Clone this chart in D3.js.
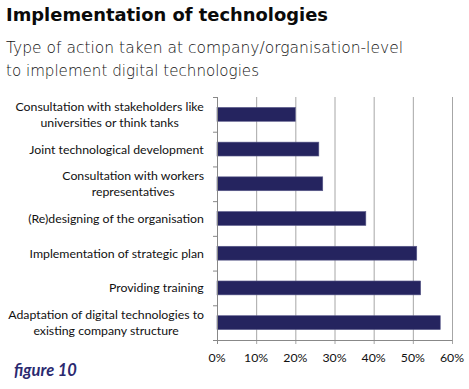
<!DOCTYPE html>
<html>
<head>
<meta charset="utf-8">
<script src="https://cdn.jsdelivr.net/npm/d3@7"></script>
<style>
  body { margin: 0; background: #fff; }
  svg { display: block; }
</style>
</head>
<body>
<svg id="canvas" width="469" height="389"></svg>
<script>
// categories, top to bottom
let categories = [
  ['Consultation with stakeholders like', 'universities or think tanks'],
  ['Joint technological development'],
  ['Consultation with workers', 'representatives'],
  ['(Re)designing of the organisation'],
  ['Implementation of strategic plan'],
  ['Providing training'],
  ['Adaptation of digital technologies to', 'existing company structure']
]
let values = [20, 26, 27, 38, 51, 52, 57]
let xTicks = [0, 10, 20, 30, 40, 50, 60]

let canvas = d3.select('#canvas')

let plotLeft = 217, plotRight = 452, plotTop = 97, plotBottom = 340

let x = d3.scaleLinear().domain([0, 60]).range([plotLeft, plotRight])
let y = d3.scaleBand().domain(d3.range(categories.length)).range([plotTop, plotBottom]).paddingInner(0.6).paddingOuter(0.3)
let yEdge = d3.scaleBand().domain(d3.range(categories.length)).range([plotTop, plotBottom])

// titles
canvas.append('text')
  .attr('x', 6).attr('y', 21)
  .attr('font-family', 'DejaVu Sans')
  .attr('font-weight', 'bold')
  .attr('font-size', 18.5)
  .attr('fill', '#0a0a0a')
  .attr('textLength', 322)
  .attr('lengthAdjust', 'spacingAndGlyphs')
  .text('Implementation of technologies')

let sub = canvas.append('text')
  .attr('font-family', 'DejaVu Sans')
  .attr('font-weight', 300)
  .attr('font-size', 16.6)
  .attr('fill', '#111')
sub.append('tspan').attr('x', 6).attr('y', 53)
  .attr('textLength', 397).attr('lengthAdjust', 'spacingAndGlyphs')
  .text('Type of action taken at company/organisation-level')
sub.append('tspan').attr('x', 6).attr('y', 76)
  .attr('textLength', 253).attr('lengthAdjust', 'spacingAndGlyphs')
  .text('to implement digital technologies')

// gridlines
canvas.append('g')
  .selectAll('line')
  .data(xTicks.slice(1))
  .enter()
  .append('line')
  .attr('x1', d => x(d) + 0.5).attr('x2', d => x(d) + 0.5)
  .attr('y1', plotTop).attr('y2', plotBottom + 4)
  .attr('stroke', '#a6a6a6')
  .attr('stroke-width', 1)

// bars
canvas.append('g')
  .selectAll('rect')
  .data(values)
  .enter()
  .append('rect')
  .attr('x', x(0))
  .attr('y', (d, i) => y(i))
  .attr('width', d => x(d) - x(0))
  .attr('height', y.bandwidth())
  .attr('fill', '#25245f')
  .attr('stroke', '#5a5a8a')
  .attr('stroke-width', 0.6)

// y axis with category ticks
let yAxis = canvas.append('g')
yAxis.append('line')
  .attr('x1', plotLeft + 0.5).attr('x2', plotLeft + 0.5)
  .attr('y1', plotTop).attr('y2', plotBottom + 4)
  .attr('stroke', '#888')
yAxis.selectAll('.tick')
  .data(d3.range(categories.length + 1))
  .enter()
  .append('line')
  .attr('x1', plotLeft - 4).attr('x2', plotLeft)
  .attr('y1', i => (i < categories.length ? yEdge(i) : plotBottom) + 0.5)
  .attr('y2', i => (i < categories.length ? yEdge(i) : plotBottom) + 0.5)
  .attr('stroke', '#888')

// x axis line
canvas.append('line')
  .attr('x1', plotLeft - 4).attr('x2', plotRight + 0.5)
  .attr('y1', plotBottom + 0.5).attr('y2', plotBottom + 0.5)
  .attr('stroke', '#888')

// category labels, multi-line ones centred within their block
let labels = canvas.append('g')
  .attr('font-family', 'Lato')
  .attr('font-size', 12.3)
  .attr('fill', '#111')
  .attr('text-anchor', 'middle')
labels.selectAll('text')
  .data(categories)
  .enter()
  .append('text')
  .attr('y', (d, i) => y(i) + y.bandwidth() / 2 - (d.length - 1) * 8 + 4.5)
  .each(function (d) {
    let t = d3.select(this)
    d.forEach((line, j) => {
      t.append('tspan').attr('x', 0).attr('dy', j === 0 ? 0 : 16).text(line)
    })
    let w = this.getBBox().width
    t.selectAll('tspan').attr('x', 204 - w / 2)
  })

// x tick labels
canvas.append('g')
  .selectAll('text')
  .data(xTicks)
  .enter()
  .append('text')
  .attr('x', d => x(d))
  .attr('y', 362)
  .attr('text-anchor', 'middle')
  .attr('font-family', 'Lato')
  .attr('font-size', 12.3)
  .attr('fill', '#111')
  .text(d => d + '%')

// figure caption
canvas.append('text')
  .attr('x', 14).attr('y', 376)
  .attr('font-family', 'Lato')
  .attr('font-style', 'italic')
  .attr('font-weight', 'bold')
  .attr('font-size', 16.5)
  .attr('fill', '#2b2a70')
  .text('figure 10')
</script>
</body>
</html>
